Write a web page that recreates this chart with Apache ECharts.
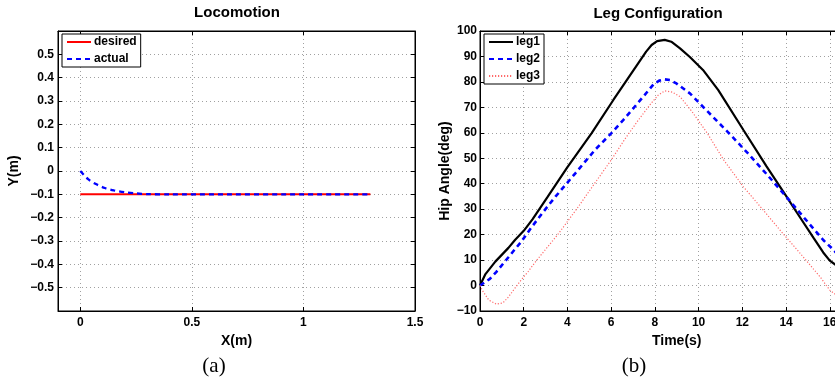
<!DOCTYPE html>
<html>
<head>
<meta charset="utf-8">
<script src="https://cdn.jsdelivr.net/npm/echarts@6/dist/echarts.min.js"></script>
<style>
  html, body { margin: 0; padding: 0; background: #fff; }
  #main { width: 835px; height: 381px; }
</style>
</head>
<body>
<div id="main"></div>
<script>
// (a) Locomotion
var locoDesiredX = [0, 1.3]
var locoDesiredY = [-0.1, -0.1]
var locoActualX = [0, 0.035, 0.07, 0.11, 0.15, 0.2, 0.25, 0.3, 0.4, 1.3]
var locoActualY = [0, -0.035, -0.056, -0.073, -0.083, -0.091, -0.096, -0.099, -0.1, -0.1]
var locoXTicks = [0, 0.5, 1, 1.5]

// (b) Leg Configuration
var leg1T = [0, 0.25, 0.7, 1.3, 1.6, 2.0, 2.4, 3.1, 4.0, 5.1, 6.1, 7.6, 7.85, 8.1, 8.45, 8.75, 9.15, 9.6, 10.2, 10.9, 12.05, 13.1, 14.0, 14.5, 15.25, 15.7, 16.0, 16.25, 16.5]
var leg1V = [0, 4.5, 9.4, 14.8, 17.9, 21.5, 26, 34.9, 46.5, 59.8, 72.9, 91.9, 94.5, 96, 96.5, 95.8, 93.2, 89.8, 84.7, 76.8, 61.1, 46.9, 35.2, 28.6, 18.8, 13, 9.8, 8.2, 7.5]
var leg2T = [0, 0.45, 0.75, 1.3, 1.6, 1.85, 2.35, 2.9, 3.45, 4.35, 5.25, 6.0, 6.55, 7.4, 7.95, 8.2, 8.45, 8.7, 9.0, 9.6, 10.4, 11.35, 12.25, 13.15, 14.0, 14.85, 15.7, 16.1, 16.5]
var leg2V = [0, 2.6, 5.4, 11.1, 14.3, 16.8, 22.8, 29, 34.9, 44, 53.2, 59.8, 65, 73.5, 79.2, 80.5, 81, 80.7, 79.3, 75.5, 68.5, 60.2, 52, 43.4, 35, 26.4, 17.9, 14.6, 11]
var leg3T = [0, 0.1, 0.4, 0.75, 1.05, 1.3, 1.6, 1.85, 2.2, 2.6, 3.6, 4.5, 5.25, 6.0, 6.6, 7.2, 7.8, 8.15, 8.45, 8.8, 9.15, 9.7, 10.4, 11.15, 12.05, 12.95, 13.85, 14.65, 15.55, 16.0, 16.5]
var leg3V = [0, -1.8, -5.7, -7.3, -6.8, -4.5, -1, 1.8, 5.5, 10, 20.5, 31, 40.2, 49.3, 57.2, 64.5, 71.3, 74.8, 76.5, 76, 74.2, 68.3, 59.8, 49.3, 38.8, 29.7, 20.5, 12.6, 3.5, -1.8, -5]

var FONT = '"Liberation Sans", Arial, sans-serif'
var SERIF = '"Liberation Serif", "Times New Roman", serif'

function pairs (xs, ys) {
    var out = []
    for (var i = 0; i < xs.length; i++) {
        out.push([xs[i], ys[i]])
    }
    return out
}

function minus (v) {
    return String(v).replace('-', '\u2212')
}

var tickLabel = { color: '#000', fontFamily: FONT, fontWeight: 'bold', fontSize: 12 }
var gridLine = { show: true, lineStyle: { color: '#a0a0a0', width: 1, type: [1, 3] } }
var innerTick = { show: true, inside: true, length: 4, lineStyle: { color: '#000' } }
var blackLine = { show: true, onZero: false, lineStyle: { color: '#000', width: 1 } }
var axisName = { color: '#000', fontFamily: FONT, fontWeight: 'bold', fontSize: 14 }

// 只画刻度的辅助轴(上/右)
function mirrorX (grid, min, max, extra) {
    var a = {
        type: 'value', gridIndex: grid, position: 'top', min: min, max: max,
        axisLine: blackLine, axisTick: innerTick, axisLabel: { show: false }, splitLine: { show: false }
    }
    return Object.assign(a, extra || {})
}
function mirrorY (grid, min, max, extra) {
    var a = {
        type: 'value', gridIndex: grid, position: 'right', min: min, max: max,
        axisLine: blackLine, axisTick: innerTick, axisLabel: { show: false }, splitLine: { show: false }
    }
    return Object.assign(a, extra || {})
}

function legendBox (left, names) {
    return {
        left: left, top: 34, orient: 'vertical',
        data: names,
        backgroundColor: '#fff', borderColor: '#000', borderWidth: 1, borderRadius: 0,
        padding: [1, 4, 1, 4], itemGap: 3, itemWidth: 24, itemHeight: 12,
        itemStyle: { opacity: 0 },
        textStyle: { color: '#000', fontFamily: FONT, fontWeight: 'bold', fontSize: 12, lineHeight: 14, padding: [0, 0, 0, -2] }
    }
}

var myChart = echarts.init(document.getElementById('main'), null, { renderer: 'canvas' })

var option = {
    backgroundColor: '#fff',
    animation: false,
    textStyle: { fontFamily: FONT },
    grid: [
        { left: 58, right: 420, top: 31, bottom: 70, show: true, borderColor: '#000', borderWidth: 1, backgroundColor: '#fff', outerBoundsMode: 'none' },
        { left: 480, right: -38.5, top: 31, bottom: 70, show: true, borderColor: '#000', borderWidth: 1, backgroundColor: '#fff', outerBoundsMode: 'none' }
    ],
    graphic: [
        { type: 'text', x: 237, y: 13, style: { text: 'Locomotion', align: 'center', verticalAlign: 'middle', fill: '#000', fontFamily: FONT, fontWeight: 'bold', fontSize: 15 } },
        { type: 'text', x: 658, y: 14, style: { text: 'Leg Configuration', align: 'center', verticalAlign: 'middle', fill: '#000', fontFamily: FONT, fontWeight: 'bold', fontSize: 15 } },
        { type: 'text', x: 214, y: 366, style: { text: '(a)', align: 'center', verticalAlign: 'middle', fill: '#000', fontFamily: SERIF, fontSize: 21 } },
        { type: 'text', x: 634, y: 366, style: { text: '(b)', align: 'center', verticalAlign: 'middle', fill: '#000', fontFamily: SERIF, fontSize: 21 } }
    ],
    legend: [
        legendBox(62, ['desired', 'actual']),
        legendBox(484, ['leg1', 'leg2', 'leg3'])
    ],
    xAxis: [
        {
            type: 'value', gridIndex: 0, min: -0.1, max: 1.5,
            name: 'X(m)', nameLocation: 'middle', nameGap: 16, nameTextStyle: axisName,
            axisLine: blackLine, axisTick: Object.assign({ customValues: locoXTicks }, innerTick),
            axisLabel: Object.assign({ customValues: locoXTicks, margin: 6 }, tickLabel),
            splitLine: gridLine
        },
        mirrorX(0, -0.1, 1.5, { axisTick: Object.assign({ customValues: locoXTicks }, innerTick) }),
        {
            type: 'value', gridIndex: 1, min: 0, max: 18, interval: 2,
            name: 'Time(s)', nameLocation: 'middle', nameGap: 16, nameTextStyle: axisName,
            axisLine: blackLine, axisTick: innerTick,
            axisLabel: Object.assign({ margin: 6, showMinLabel: true, showMaxLabel: true }, tickLabel),
            splitLine: gridLine
        },
        mirrorX(1, 0, 18, { interval: 2 })
    ],
    yAxis: [
        {
            type: 'value', gridIndex: 0, min: -0.6, max: 0.6, interval: 0.1,
            name: 'Y(m)', nameLocation: 'middle', nameGap: 37, nameTextStyle: axisName,
            axisLine: blackLine, axisTick: innerTick,
            axisLabel: Object.assign({ margin: 4, showMinLabel: false, showMaxLabel: false, formatter: minus }, tickLabel),
            splitLine: gridLine
        },
        mirrorY(0, -0.6, 0.6, { interval: 0.1 }),
        {
            type: 'value', gridIndex: 1, min: -10, max: 100, interval: 10,
            name: 'Hip Angle(deg)', nameLocation: 'middle', nameGap: 28, nameTextStyle: axisName,
            axisLine: blackLine, axisTick: innerTick,
            axisLabel: Object.assign({ margin: 3, showMinLabel: true, showMaxLabel: true, formatter: minus }, tickLabel),
            splitLine: gridLine
        },
        mirrorY(1, -10, 100, { interval: 10 })
    ],
    series: [
        {
            name: 'desired', type: 'line', xAxisIndex: 0, yAxisIndex: 0,
            data: pairs(locoDesiredX, locoDesiredY), symbol: 'none',
            lineStyle: { color: '#ff0000', width: 2 }, itemStyle: { color: '#ff0000' }
        },
        {
            name: 'actual', type: 'line', xAxisIndex: 0, yAxisIndex: 0,
            data: pairs(locoActualX, locoActualY), symbol: 'none', smooth: 0.3,
            lineStyle: { color: '#0000ff', width: 2.3, type: [5, 4] }, itemStyle: { color: '#0000ff' }
        },
        {
            name: 'leg1', type: 'line', xAxisIndex: 2, yAxisIndex: 2,
            data: pairs(leg1T, leg1V), symbol: 'none',
            lineStyle: { color: '#000', width: 2.2 }, itemStyle: { color: '#000' }
        },
        {
            name: 'leg2', type: 'line', xAxisIndex: 2, yAxisIndex: 2,
            data: pairs(leg2T, leg2V), symbol: 'none',
            lineStyle: { color: '#0000ff', width: 2.6, type: [5, 4] }, itemStyle: { color: '#0000ff' }
        },
        {
            name: 'leg3', type: 'line', xAxisIndex: 2, yAxisIndex: 2,
            data: pairs(leg3T, leg3V), symbol: 'none',
            lineStyle: { color: '#ff6a6a', width: 1.2, type: [1.2, 1.8] }, itemStyle: { color: '#ff6a6a' }
        }
    ]
}

myChart.setOption(option)
</script>
</body>
</html>
